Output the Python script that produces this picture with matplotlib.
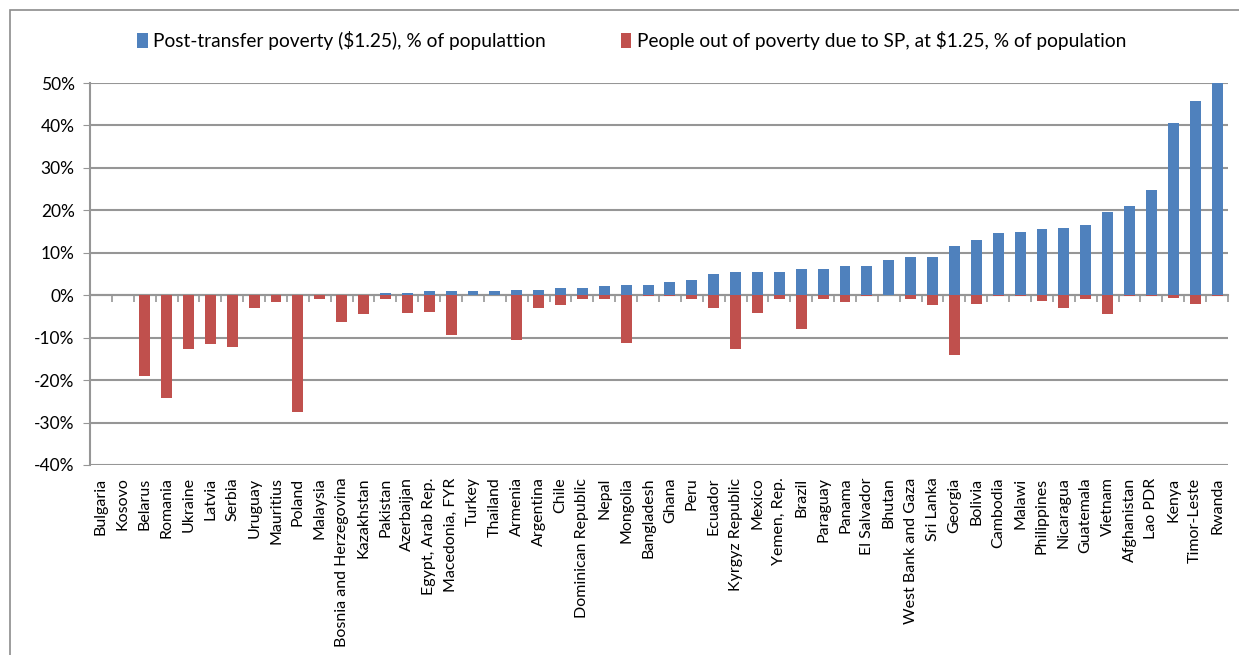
import numpy as np
import matplotlib.pyplot as plt
from matplotlib.patches import Rectangle

plt.rcParams['font.family'] = ['Lato', 'DejaVu Sans']

# Datos (% de poblacion)
paises = ['Bulgaria', 'Kosovo', 'Belarus', 'Romania', 'Ukraine', 'Latvia', 'Serbia',
          'Uruguay', 'Mauritius', 'Poland', 'Malaysia', 'Bosnia and Herzegovina',
          'Kazakhstan', 'Pakistan', 'Azerbaijan', 'Egypt, Arab Rep.', 'Macedonia, FYR',
          'Turkey', 'Thailand', 'Armenia', 'Argentina', 'Chile', 'Dominican Republic',
          'Nepal', 'Mongolia', 'Bangladesh', 'Ghana', 'Peru', 'Ecuador',
          'Kyrgyz Republic', 'Mexico', 'Yemen, Rep.', 'Brazil', 'Paraguay', 'Panama',
          'El Salvador', 'Bhutan', 'West Bank and Gaza', 'Sri Lanka', 'Georgia',
          'Bolivia', 'Cambodia', 'Malawi', 'Philippines', 'Nicaragua', 'Guatemala',
          'Vietnam', 'Afghanistan', 'Lao PDR', 'Kenya', 'Timor-Leste', 'Rwanda']

pobreza_post = [0, 0, 0, 0, 0, 0, 0,
                0, 0, 0, 0, 0,
                0, 0.6, 0.6, 0.9, 0.9,
                0.9, 0.9, 1.3, 1.3, 1.6, 1.6,
                2.1, 2.3, 2.3, 3.0, 3.7, 4.9,
                5.4, 5.4, 5.4, 6.1, 6.1, 6.8,
                7.0, 8.2, 8.9, 9.1, 11.7,
                13.1, 14.6, 15.0, 15.7, 15.9, 16.6,
                19.5, 21.1, 24.9, 40.6, 45.8, 50.0]

fuera_pobreza = [0, 0, -19.0, -24.2, -12.7, -11.4, -12.1,
                 -2.9, -1.5, -27.5, -0.8, -6.4,
                 -4.5, -0.8, -4.3, -3.9, -9.3,
                 0, 0, -10.5, -3.1, -2.2, -0.8,
                 -0.8, -11.2, -0.2, -0.2, -1.0, -3.1,
                 -12.6, -4.3, -1.0, -7.9, -0.8, -1.7,
                 -0.2, 0, -0.8, -2.4, -14.2,
                 -2.1, -0.2, -0.2, -1.4, -3.1, -0.9,
                 -4.5, -0.2, -0.2, -0.7, -2.1, -0.2]

azul = '#4F81BD'
rojo = '#C0504D'
gris = '#969696'

fig = plt.figure(figsize=(12.39, 6.55), dpi=100)
ax = fig.add_axes([90 / 1239, 1 - 465 / 655, 1138 / 1239, 382 / 655])

x = np.arange(len(paises))
ax.bar(x, pobreza_post, width=0.5, color=azul, zorder=3,
       label='Post-transfer poverty ($1.25), % of populattion')
ax.bar(x, fuera_pobreza, width=0.5, color=rojo, zorder=3,
       label='People out of poverty due to SP, at $1.25, % of population')

ax.set_xlim(-0.5, len(paises) - 0.5)
ax.set_ylim(-40, 50)
yt = np.arange(-40, 51, 10)
ax.set_yticks(yt, [f'{v}%' for v in yt])
ax.yaxis.grid(True, color=gris, linewidth=1.5, zorder=0)
ax.tick_params(axis='y', labelsize=12.5, length=5, color=gris, pad=6)

ax.set_xticks(x, paises, rotation=90, fontsize=11.5)
ax.tick_params(axis='x', length=0, pad=9)

for s in ['top', 'right', 'bottom']:
    ax.spines[s].set_visible(False)
ax.spines['left'].set_color(gris)
ax.spines['left'].set_linewidth(1.5)

# eje en cero con marcas entre categorias
eje0 = ax.secondary_xaxis(0, transform=ax.transData)
eje0.set_xticks(np.arange(len(paises) + 1) - 0.5, [''] * (len(paises) + 1))
eje0.tick_params(length=5, color=gris, width=1.2)
eje0.spines['bottom'].set_color(gris)
eje0.spines['bottom'].set_linewidth(1.5)

fig.legend(loc='center', bbox_to_anchor=(0.51, 0.938), ncol=2, frameon=False,
           fontsize=13.8, handlelength=0.55, handleheight=0.85, handletextpad=0.3,
           columnspacing=3.9)

fig.patches.append(Rectangle((10 / 1239, -0.1), 1.2, 1.1 - 10 / 655,
                             transform=fig.transFigure, fill=False,
                             edgecolor='#8c8c8c', linewidth=1.2))

fig.savefig('out.png', dpi=100)
